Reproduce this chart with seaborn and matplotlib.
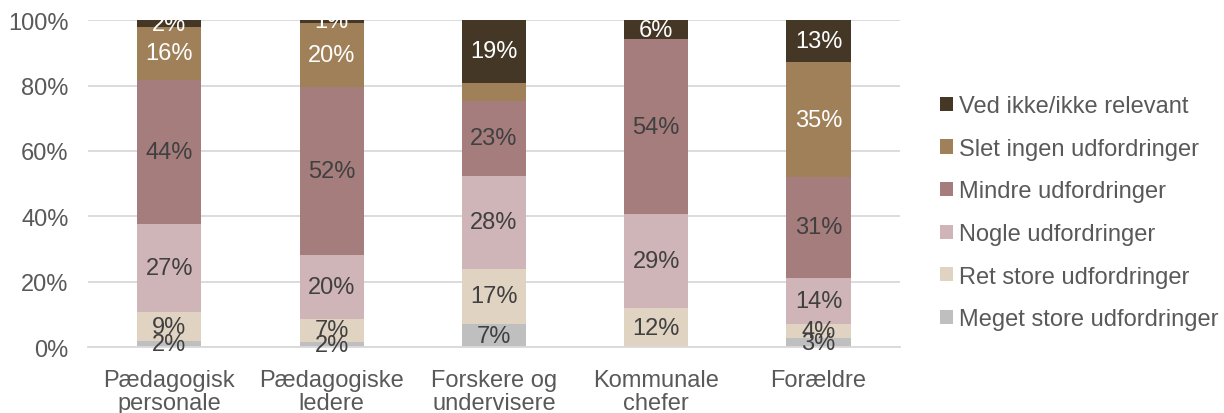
import matplotlib.pyplot as plt
import seaborn as sns
import pandas as pd
import numpy as np

# Data (andele i %)
grupper = ['Pædagogisk\npersonale', 'Pædagogiske\nledere', 'Forskere og\nundervisere',
           'Kommunale\nchefer', 'Forældre']
serier = ['Meget store udfordringer', 'Ret store udfordringer', 'Nogle udfordringer',
          'Mindre udfordringer', 'Slet ingen udfordringer', 'Ved ikke/ikke relevant']
meget_store = [1.8, 1.6, 7.0, 0.0, 2.8]
ret_store = [9.0, 7.0, 17.0, 12.0, 4.3]
nogle = [27.0, 19.6, 28.4, 28.7, 14.0]
mindre = [44.0, 51.5, 23.0, 53.5, 31.0]
slet_ingen = [16.0, 19.5, 5.5, 0.0, 35.0]
ved_ikke = [2.2, 0.8, 19.1, 5.8, 12.9]
# labels der ikke vises i originalen
skjult = {('Slet ingen udfordringer', 2)}

farver = ['#BFBFBF', '#E0D3C2', '#CFB5B7', '#A67D7D', '#A08058', '#453726']
tekstfarver = ['#404040', '#404040', '#404040', '#404040', 'white', 'white']

vaerdier = [meget_store, ret_store, nogle, mindre, slet_ingen, ved_ikke]
df = pd.DataFrame({s: v for s, v in zip(serier, vaerdier)}, index=grupper)
kum = df.cumsum(axis=1)

sns.set_style('white')
plt.rcParams['font.family'] = ['Liberation Sans', 'DejaVu Sans']

fig = plt.figure(figsize=(12.24, 4.14), dpi=100)
ax = fig.add_axes([0.072, 0.159, 0.663, 0.79])

# Tegn fra øverste lag og ned, så de lavere lag ligger ovenpå
for i in range(len(serier) - 1, -1, -1):
    s = serier[i]
    sns.barplot(x=grupper, y=kum[s].values, color=farver[i], width=0.395,
                saturation=1, label=s, ax=ax, zorder=2, linewidth=0, edgecolor='none')

# Værdietiketter
for i, s in enumerate(serier):
    for j, g in enumerate(grupper):
        v = df.loc[g, s]
        if v <= 0 or (s, j) in skjult:
            continue
        y = kum.loc[g, s] - v / 2
        ax.text(j, y, f'{v:.0f}%', ha='center', va='center', fontsize=17,
                color=tekstfarver[i], zorder=5)

ax.set_ylim(0, 100)
ax.set_xlim(-0.5, 4.5)
ax.set_yticks(range(0, 101, 20))
ax.set_yticklabels([f'{t}%' for t in range(0, 101, 20)])
ax.yaxis.grid(True, color='#D9D9D9', linewidth=1.3, zorder=0)
ax.set_axisbelow(True)
for side in ['top', 'right', 'left']:
    ax.spines[side].set_visible(False)
ax.spines['bottom'].set_color('#D9D9D9')
ax.spines['bottom'].set_linewidth(1.3)
ax.tick_params(axis='both', length=0, labelsize=17, colors='#595959')
ax.tick_params(axis='x', pad=16)
ax.tick_params(axis='y', pad=14)
for lbl in ax.get_xticklabels():
    lbl.set_linespacing(1.05)

ax.legend(loc='center left', bbox_to_anchor=(1.035, 0.411), frameon=False,
          fontsize=17, labelcolor='#595959', handlelength=0.55, handleheight=0.55,
          handletextpad=0.25, labelspacing=0.87, borderpad=0)

plt.savefig('out.png', dpi=100)
